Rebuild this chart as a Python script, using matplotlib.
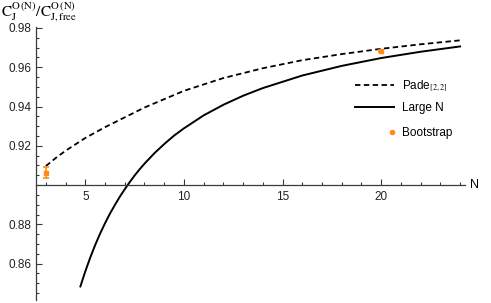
import numpy as np
import matplotlib
matplotlib.use("Agg")
import matplotlib.pyplot as plt
from matplotlib.lines import Line2D
from matplotlib.ticker import MultipleLocator, FixedLocator

# valeurs
n_pade = [3, 3.5, 4, 5, 6, 7, 8, 10, 12, 14, 16, 18, 20, 22, 24]
c_pade = [0.9097, 0.9138, 0.9175, 0.9240, 0.9295, 0.9345, 0.9395, 0.9480,
          0.9545, 0.9595, 0.9636, 0.9667, 0.9694, 0.9717, 0.9737]

n_large = [4.75, 5, 5.25, 5.5, 5.75, 6, 6.25, 6.5, 6.75, 7, 7.25, 7.5, 7.75,
           8, 8.5, 9, 9.5, 10, 11, 12, 13, 14, 16, 18, 20, 22, 24]
c_large = [0.8484, 0.8561, 0.8631, 0.8695, 0.8753, 0.8806, 0.8855, 0.8899,
           0.8941, 0.8979, 0.9015, 0.9049, 0.9080, 0.9109, 0.9162, 0.9209,
           0.9252, 0.9289, 0.9355, 0.9409, 0.9455, 0.9494, 0.9558, 0.9607,
           0.9647, 0.9679, 0.9706]

n_boot = [3, 20]
c_boot = [0.9063, 0.9682]
err_boot = [0.0027, 0.0004]

orange = "#FF8C1A"
axe_col = "#3a3a3a"

plt.rcParams["font.family"] = ["Liberation Sans", "DejaVu Sans"]
plt.rcParams["mathtext.fontset"] = "stix"

fig = plt.figure(figsize=(4.91, 3.03), dpi=100)
ax = fig.add_axes([36 / 491, 3 / 303, (465 - 36) / 491, (300 - 27) / 303])

ax.plot(n_pade, c_pade, color="black", lw=1.3, linestyle=(0, (3.0, 1.9)))
ax.plot(n_large, c_large, color="black", lw=1.4)
ax.errorbar(n_boot, c_boot, yerr=err_boot, fmt="s", color=orange, ms=2.5,
            elinewidth=1.2, capsize=2.2, capthick=1.2)

ax.set_xlim(2.5, 24.25)
ax.set_ylim(0.8415, 0.9805)

ax.spines["top"].set_visible(False)
ax.spines["right"].set_visible(False)
ax.spines["bottom"].set_position(("data", 0.9))
for s in ["left", "bottom"]:
    ax.spines[s].set_color(axe_col)
    ax.spines[s].set_linewidth(0.9)

ax.xaxis.set_major_locator(FixedLocator([5, 10, 15, 20]))
ax.xaxis.set_minor_locator(MultipleLocator(1))
ax.yaxis.set_major_locator(FixedLocator([0.86, 0.88, 0.92, 0.94, 0.96, 0.98]))
ax.yaxis.set_minor_locator(MultipleLocator(0.005))
ax.yaxis.set_major_formatter(matplotlib.ticker.FormatStrFormatter("%.2f"))

ax.tick_params(which="both", direction="in", color=axe_col, width=0.8,
               labelsize=8.5, labelcolor="#222222")
ax.tick_params(which="major", length=4)
ax.tick_params(which="minor", length=2.3)
ax.tick_params(axis="x", pad=4)
ax.tick_params(axis="y", pad=3)

ax.text(1.012, 0.9, "N", transform=ax.get_yaxis_transform(), fontsize=9,
        va="center", ha="left")
fig.text(1 / 491, 1 - 0.5 / 303,
         r"$\mathrm{C_J^{O\,(N)}/C_{J,free}^{O\,(N)}}$",
         fontsize=11, va="top", ha="left")

h1 = [Line2D([], [], color="black", lw=1.3, linestyle=(0, (3.0, 1.9))),
      Line2D([], [], color="black", lw=1.4)]
leg1 = ax.legend(h1, [r"Pade$_{[2,2]}$", "Large N"], loc="upper left",
                 bbox_to_anchor=(355 / 491, 1 - 78 / 303),
                 bbox_transform=fig.transFigure, frameon=False, fontsize=8.5,
                 handlelength=3.3, handletextpad=0.7, labelspacing=0.75,
                 borderaxespad=0, borderpad=0)
ax.add_artist(leg1)
h2 = [Line2D([], [], color=orange, marker="o", ms=3, linestyle="none")]
ax.legend(h2, ["Bootstrap"], loc="upper left",
          bbox_to_anchor=(386 / 491, 1 - 127 / 303),
          bbox_transform=fig.transFigure, frameon=False, fontsize=8.5,
          handlelength=1.0, handletextpad=0.35, borderaxespad=0, borderpad=0)

fig.savefig("out.png", dpi=100)
